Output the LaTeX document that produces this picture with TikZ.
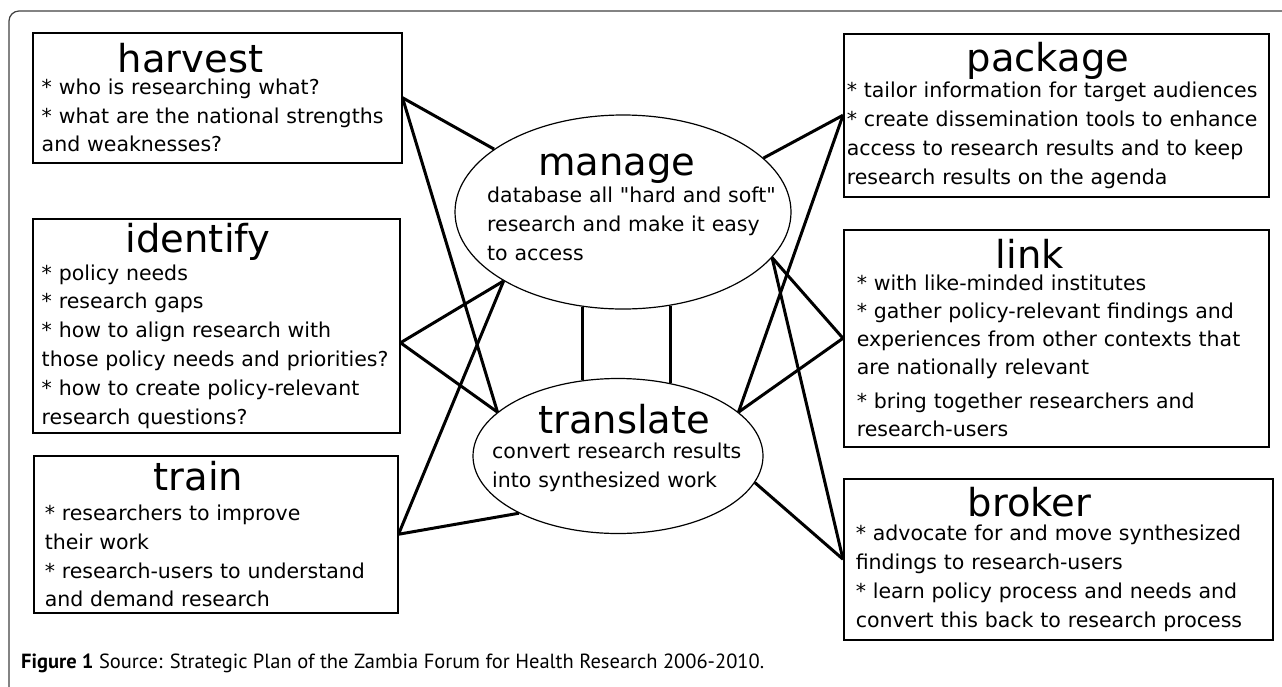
\documentclass[tikz,border=0pt]{standalone}
\usepackage{fontspec}
\setmainfont{DejaVu Sans}
\newfontfamily\capfont{PT Sans}
\usetikzlibrary{shapes.geometric, calc}
\newcommand\heading[2]{\hspace*{#1pt}{\fontsize{38.5}{40}\selectfont #2}}

\begin{document}
\begin{tikzpicture}[x = 1pt, y = -1pt,
    every node/.style = {font = \fontsize{20.5}{28.8}\selectfont},
    task/.style n args = {3}{draw, line width = 1.5pt, rectangle, anchor = north west,
        inner sep = 0pt, align = left, text width = #1pt, minimum width = #1pt,
        minimum height = #2pt, execute at begin node = {\leftskip=#3pt}},
    hub/.style = {draw, line width = 1.2pt, ellipse, inner sep = 0pt},
    hubtext/.style = {anchor = north west, inner sep = 0pt, align = left, text width = 300pt},
    tie/.style = {line width = 3pt}]
    \useasboundingbox (0,0) rectangle (1282,686);
    \draw[line width = 1.2pt, black!75, rounded corners = 10pt] (1290,11) -- (9,11) -- (9,694);

    \node[task = {369}{130}{9}] (harvest) at (32,32) {\heading{76}{harvest}\\[-7pt]
        {*} who is researching what?\\
        {*} what are the national strengths\\
        and weaknesses?};
    \node[task = {367}{214}{9}] (identify) at (32,218) {\heading{84}{identify}\\[-1pt]
        {*} policy needs\\
        {*} research gaps\\
        {*} how to align research with\\
        those policy needs and priorities?\\
        {*} how to create policy-relevant\\
        research questions?};
    \node[task = {364}{157}{11}] (train) at (33,455) {\heading{109}{train}\\[1pt]
        {*} researchers to improve\\
        their work\\
        {*} research-users to understand\\
        and demand research};
    \node[task = {425}{163}{3}] (package) at (843,33) {\heading{120}{package}\\[-2pt]
        {*} tailor information for target audiences\\
        {*} create dissemination tools to enhance\\
        access to research results and to keep\\
        research results on the agenda};
    \node[task = {425}{217}{13}] (link) at (843,229) {\heading{139}{link}\\[-7pt]
        {*} with like-minded institutes\\[-1pt]
        {*} gather policy-relevant findings and\\[-1pt]
        experiences from other contexts that\\[-1pt]
        are nationally relevant\\[6pt]
        {*} bring together researchers and\\[-1pt]
        research-users};
    \node[task = {429}{161}{12}] (broker) at (843,478) {\heading{112}{broker}\\[-4pt]
        {*} advocate for and move synthesized\\
        findings to research-users\\
        {*} learn policy process and needs and\\
        convert this back to research process};

    \node[hub, minimum width = 336pt, minimum height = 194pt] (manage) at (623,212) {};
    \node[hub, minimum width = 290pt, minimum height = 155pt] (translate) at (618,456) {};
    \node[hubtext] (managetext) at (487,154) {\heading{51}{manage}\\[-2pt]
        database all \textquotedbl hard and soft\textquotedbl\\
        research and make it easy\\
        to access};
    \node[hubtext] (translatetext) at (492,404) {\heading{46}{translate}\\[-4pt]
        convert research results\\
        into synthesized work};

    \draw[tie] (harvest.east) -- (manage.154.7);
    \draw[tie] (harvest.east) -- (translate.160.4);
    \draw[tie] ($(identify.east)+(0,17)$) -- (manage.210.7);
    \draw[tie] ($(identify.east)+(0,17)$) -- (translate.160.4);
    \draw[tie] (train.east) -- (manage.210.7);
    \draw[tie] (train.east) -- (translate.210.6);
    \draw[tie] (package.west) -- (manage.21.9);
    \draw[tie] (package.west) -- (translate.20.7);
    \draw[tie] (link.west) -- (manage.343.3);
    \draw[tie] (link.west) -- (translate.20.7);
    \draw[tie] (broker.west) -- (manage.343.3);
    \draw[tie] (broker.west) -- (translate.349);
    \draw[tie] (translate.115 |- manage.246.9) -- (translate.115);
    \draw[tie] (translate.54.7 |- manage.296.3) -- (translate.54.7);

    \node[anchor = base west, inner sep = 0pt, font = \capfont\fontsize{20.5}{24}\selectfont] (caption) at (21,668)
        {\textbf{Figure 1} Source: Strategic Plan of the Zambia Forum for Health Research 2006-2010.};
\end{tikzpicture}
\end{document}
